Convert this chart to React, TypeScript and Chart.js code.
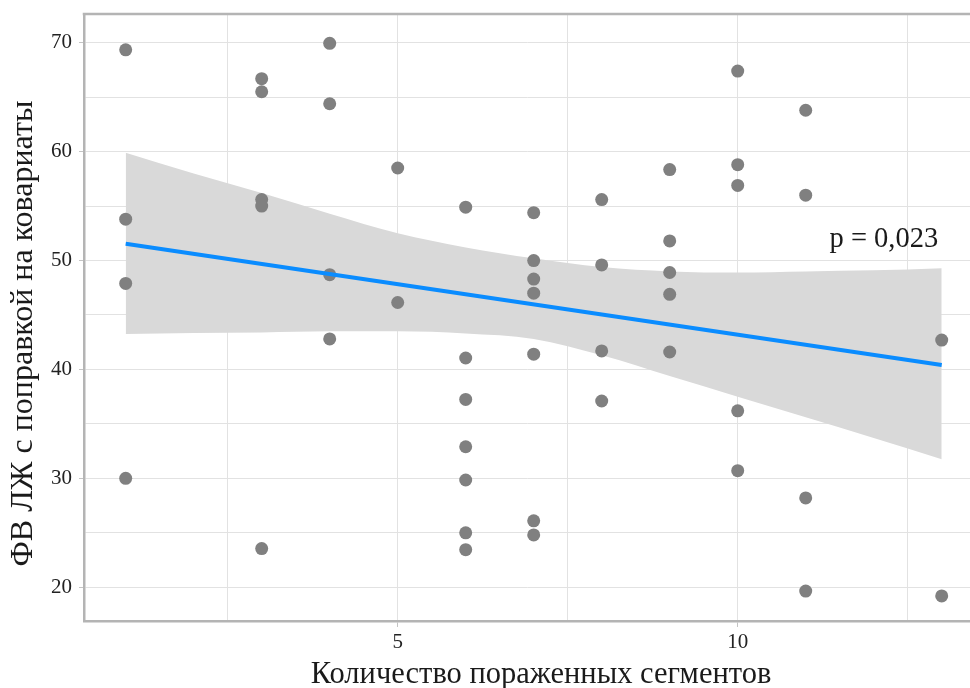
import React, { useEffect, useRef } from "react";
import Chart from "chart.js/auto";

// ---- data ----
const segX: number[] = [
  1, 1, 1, 1,
  3, 3, 3, 3, 3,
  4, 4, 4, 4,
  5, 5,
  6, 6, 6, 6, 6, 6, 6,
  7, 7, 7, 7, 7, 7, 7,
  8, 8, 8, 8,
  9, 9, 9, 9, 9,
  10, 10, 10, 10, 10,
  11, 11, 11, 11,
  13, 13,
];
const efY: number[] = [
  69.35, 53.8, 47.9, 30.0,
  66.7, 65.5, 55.6, 55.0, 23.55,
  69.95, 64.4, 48.7, 42.8,
  58.5, 46.15,
  54.9, 41.05, 37.25, 32.9, 29.85, 25.0, 23.45,
  54.4, 50.0, 48.3, 47.0, 41.4, 26.1, 24.8,
  55.6, 49.6, 41.7, 37.1,
  58.35, 51.8, 48.9, 46.9, 41.6,
  67.4, 58.8, 56.9, 36.2, 30.7,
  63.8, 56.0, 28.2, 19.65,
  42.7, 19.2,
];
const fitX: number[] = [1, 13];
const fitY: number[] = [51.55, 40.4];
const bandX: number[] = [1, 2, 3, 4, 5, 6, 7, 8, 9, 10, 11, 12, 13];
const bandUpper: number[] = [59.9, 58.0, 56.2, 54.3, 52.5, 51.2, 50.2, 49.4, 49.0, 48.9, 49.0, 49.1, 49.3];
const bandLower: number[] = [43.25, 43.35, 43.4, 43.5, 43.5, 43.3, 42.8, 41.3, 39.4, 37.5, 35.6, 33.7, 31.75];
const xGridTicks: number[] = [2.5, 5, 7.5, 10, 12.5];
const xLabelTicks: number[] = [5, 10];
const yGridTicks: number[] = [20, 25, 30, 35, 40, 45, 50, 55, 60, 65, 70];
const yLabelTicks: number[] = [20, 30, 40, 50, 60, 70];
const xTitle = "Количество пораженных сегментов";
const yTitle = "ФВ ЛЖ с поправкой на ковариаты";
const pLabel = "p = 0,023";
const pPos = { x: 11.35, y: 51.25 };

const FONT = '"Liberation Serif", "DejaVu Serif", serif';

export default function App() {
  const ref = useRef<HTMLCanvasElement | null>(null);
  useEffect(() => {
    if (!ref.current) return;
    const frame = {
      id: "frameAndText",
      afterDraw(chart: any) {
        const { ctx, chartArea } = chart;
        const { left, right, top, bottom } = chartArea;
        ctx.save();
        ctx.strokeStyle = "#b4b4b4";
        ctx.lineWidth = 2.5;
        ctx.beginPath();
        ctx.moveTo(left - 1.25, top);
        ctx.lineTo(right, top);
        ctx.stroke();
        ctx.fillStyle = "#1a1a1a";
        ctx.textAlign = "center";
        ctx.textBaseline = "alphabetic";
        ctx.font = `30.5px ${FONT}`;
        ctx.fillText(xTitle, (left + right) / 2 + 14, 683);
        ctx.save();
        ctx.font = `32px ${FONT}`;
        ctx.translate(32, (top + bottom) / 2 + 16);
        ctx.rotate(-Math.PI / 2);
        ctx.fillText(yTitle, 0, 0);
        ctx.restore();
        ctx.font = `28.5px ${FONT}`;
        ctx.textAlign = "left";
        const px = chart.scales.x.getPixelForValue(pPos.x);
        const py = chart.scales.y.getPixelForValue(pPos.y);
        ctx.fillText(pLabel, px, py);
        ctx.restore();
      },
    };
    const chart = new Chart(ref.current, {
      type: "scatter",
      data: {
        datasets: [
          {
            type: "line",
            data: fitX.map((x, i) => ({ x, y: fitY[i] })),
            borderColor: "#0a8cff",
            borderWidth: 4,
            pointRadius: 0,
            showLine: true,
            fill: false,
            order: 0,
          } as any,
          {
            type: "scatter",
            data: segX.map((x, i) => ({ x, y: efY[i] })),
            backgroundColor: "#808080",
            borderWidth: 0,
            pointRadius: 6.5,
            order: 1,
          } as any,
          {
            type: "line",
            data: bandX.map((x, i) => ({ x, y: bandUpper[i] })),
            borderWidth: 0,
            borderColor: "rgba(0,0,0,0)",
            backgroundColor: "#d9d9d9",
            pointRadius: 0,
            showLine: true,
            cubicInterpolationMode: "monotone",
            fill: "+1",
            order: 2,
          } as any,
          {
            type: "line",
            data: bandX.map((x, i) => ({ x, y: bandLower[i] })),
            borderWidth: 0,
            borderColor: "rgba(0,0,0,0)",
            backgroundColor: "#d9d9d9",
            pointRadius: 0,
            showLine: true,
            cubicInterpolationMode: "monotone",
            fill: false,
            order: 3,
          } as any,
        ],
      },
      options: {
        animation: false,
        responsive: false,
        maintainAspectRatio: false,
        events: [],
        layout: { autoPadding: false, padding: { top: 14, right: 0, left: 0, bottom: 0 } },
        plugins: { legend: { display: false }, tooltip: { enabled: false } },
        scales: {
          x: {
            type: "linear",
            min: 0.387,
            max: 13.416,
            afterBuildTicks: (axis: any) => {
              axis.ticks = xGridTicks.map((v) => ({ value: v }));
            },
            afterFit: (s: any) => {
              s.height = 67;
              s.paddingLeft = 0;
              s.paddingRight = 0;
              s.paddingTop = 0;
              s.paddingBottom = 0;
            },
            ticks: {
              padding: 3,
              color: "#222",
              font: { family: FONT, size: 21 },
              maxRotation: 0,
              autoSkip: false,
              callback: (v: any) => (xLabelTicks.includes(Number(v)) ? String(v) : ""),
            },
            grid: {
              color: "#e2e2e2",
              lineWidth: 1,
              drawTicks: true,
              tickLength: 6,
              tickColor: (c: any) =>
                c.tick && xLabelTicks.includes(c.tick.value) ? "#c4c4c4" : "rgba(0,0,0,0)",
            },
            border: { display: true, color: "#b4b4b4", width: 2.5 },
          },
          y: {
            type: "linear",
            min: 16.9,
            max: 72.64,
            afterBuildTicks: (axis: any) => {
              axis.ticks = yGridTicks.map((v) => ({ value: v }));
            },
            afterFit: (s: any) => {
              s.width = 84;
              s.paddingLeft = 0;
              s.paddingRight = 0;
              s.paddingTop = 0;
              s.paddingBottom = 0;
            },
            ticks: {
              padding: 7,
              color: "#222",
              font: { family: FONT, size: 21 },
              autoSkip: false,
              callback: (v: any) => (yLabelTicks.includes(Number(v)) ? String(v) : ""),
            },
            grid: {
              color: "#e2e2e2",
              lineWidth: 1,
              drawTicks: true,
              tickLength: 5,
              tickColor: (c: any) =>
                c.tick && yLabelTicks.includes(c.tick.value) ? "#c4c4c4" : "rgba(0,0,0,0)",
            },
            border: { display: true, color: "#b4b4b4", width: 2.5 },
          },
        },
      },
      plugins: [frame],
    } as any);
    return () => chart.destroy();
  }, []);
  return (
    <div style={{ position: "absolute", left: 0, top: 0, width: 970, height: 688, background: "#fff" }}>
      <canvas ref={ref} width={970} height={688} style={{ display: "block", width: 970, height: 688 }} />
    </div>
  );
}
